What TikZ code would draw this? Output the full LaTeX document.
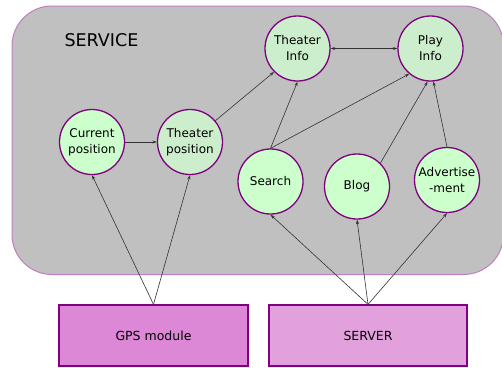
\documentclass[tikz,border=0pt]{standalone}
\usepackage{fontspec}
\setmainfont{DejaVu Sans}
\usetikzlibrary{arrows.meta}
\definecolor{svcfill}{HTML}{C0C0C0}
\definecolor{svcline}{HTML}{C080C0}
\definecolor{ringline}{HTML}{800080}
\definecolor{mintA}{HTML}{CCFFCC}
\definecolor{mintB}{HTML}{CCEECC}
\definecolor{gpsfill}{HTML}{DD88D6}
\definecolor{srvfill}{HTML}{E2A0DC}
\tikzset{
  func/.style={circle, draw=ringline, line width=1.3pt, minimum size=65pt,
    inner sep=0pt, align=center, font=\fontsize{12}{16}\selectfont},
  funcA/.style={func, fill=mintA},
  funcB/.style={func, fill=mintB},
  srcbox/.style={draw=ringline, line width=1.2pt, minimum width=189pt,
    minimum height=61pt, font=\fontsize{12.5}{15}\selectfont},
  link/.style={draw=black!80, line width=0.6pt, -{Stealth[length=4.5pt,width=3pt]}},
  dlink/.style={link, {Stealth[length=4.5pt,width=3pt]}-{Stealth[length=4.5pt,width=3pt]}}
}
\begin{document}
\begin{tikzpicture}[x=1pt,y=-1pt]
\useasboundingbox (0,0) rectangle (502,367);
\fill[white] (0,0) rectangle (502,367);
% service area, running past the right edge
\draw[svcline, fill=svcfill, line width=1pt, rounded corners=40pt] (12,6) rectangle (503.5,274.5);
\node[font=\fontsize{17.5}{20}\selectfont, anchor=west] (svc) at (61,40) {SERVICE};
% functions
\node[funcA] (cur) at (92,142) {Current\\position};
\node[funcB] (tpos) at (190,142) {Theater\\position};
\node[funcB] (tinfo) at (297.5,48.5) {Theater\\Info};
\node[funcB] (pinfo) at (430.5,48.5) {Play\\Info};
\node[funcA] (search) at (270.5,181.5) {Search};
\node[funcA] (blog) at (357,186.5) {Blog};
\node[funcA] (adv) at (447,180) {Advertise\\-ment};
% sources
\node[srcbox, fill=gpsfill] (gps) at (153.5,335.5) {GPS module};
\node[srcbox, minimum width=198pt, fill=srvfill] (srv) at (368,335.5) {SERVER};
% connectors
\draw[link] (cur) -- (tpos);
\draw[link] (tpos.40) -- (tinfo.225);
\draw[dlink] (tinfo) -- (pinfo);
\draw[link] (search.north) -- (tinfo.south);
\draw[link] (search.north) -- (pinfo.230);
\draw[link] (blog.north east) -- (pinfo.265);
\draw[link] (adv.north) -- (pinfo.275);
\draw[link] (gps.north) -- (cur.south);
\draw[link] (gps.north) -- (tpos.south);
\draw[link] (srv.north) -- (search.south);
\draw[link] (srv.north) -- (blog.south);
\draw[link] (srv.north) -- (adv.south);
\end{tikzpicture}
\end{document}
